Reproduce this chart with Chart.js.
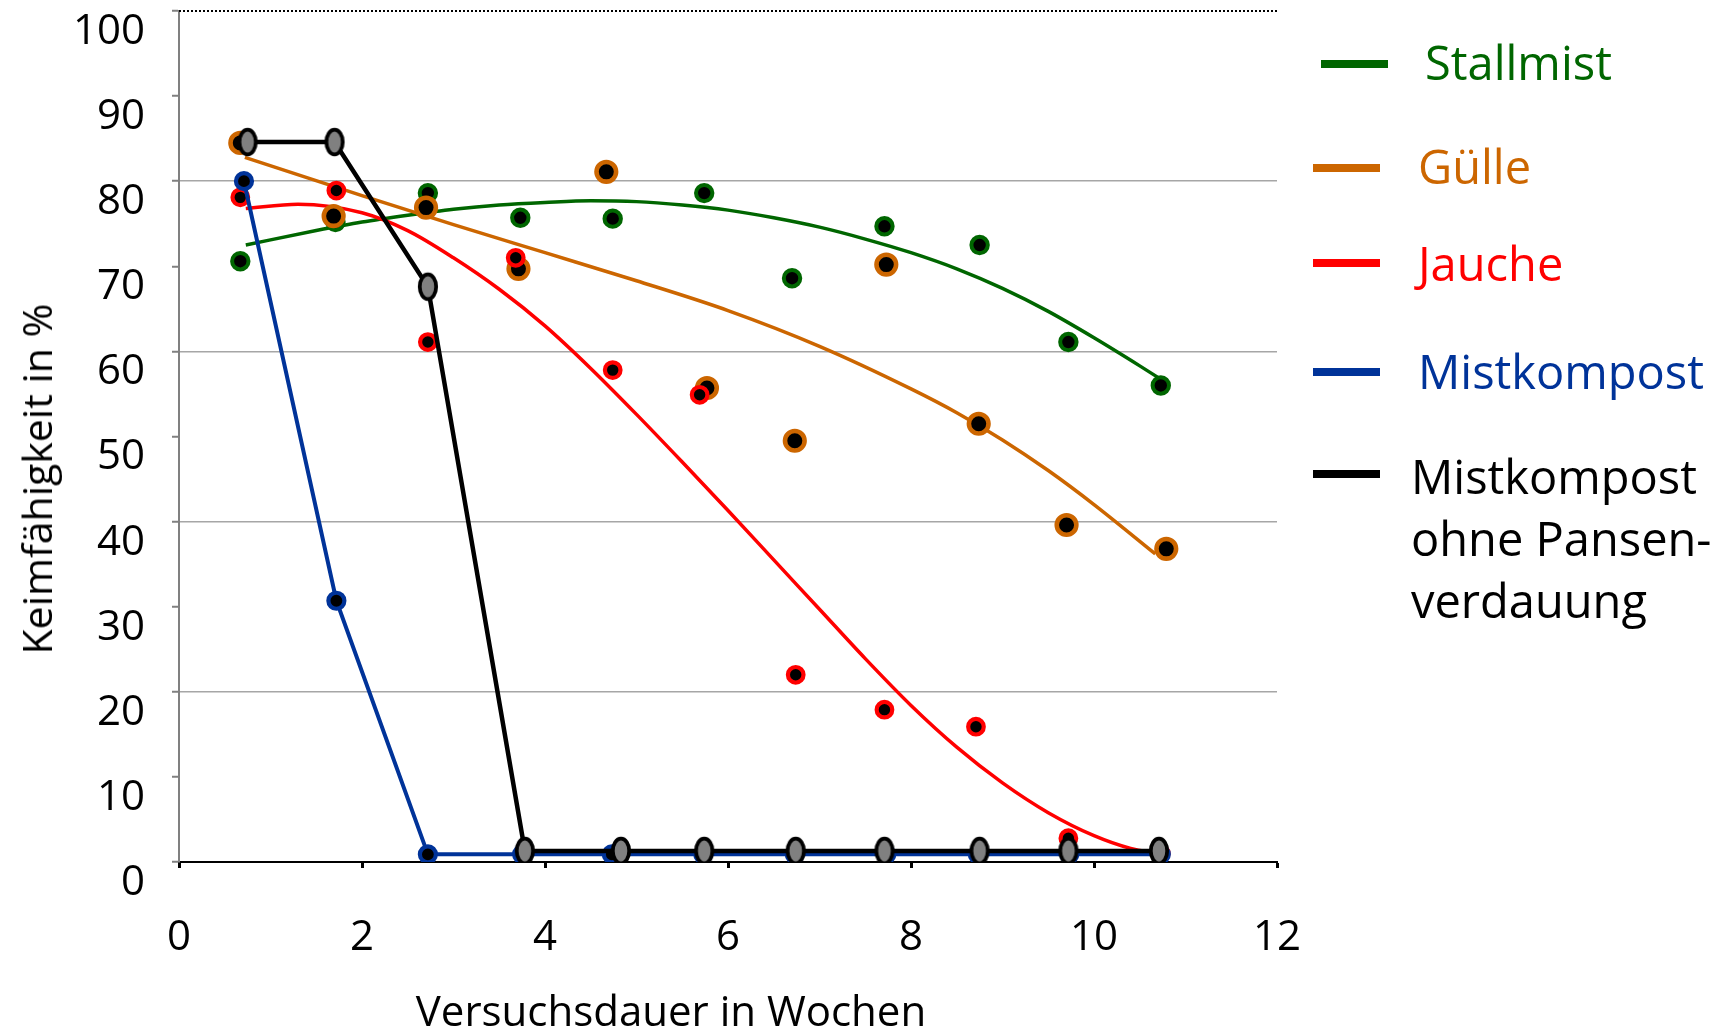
<!DOCTYPE html>
<html>
<head>
<meta charset="utf-8">
<script src="https://cdn.jsdelivr.net/npm/chart.js@4.4.1/dist/chart.umd.min.js"></script>
<style>
html,body{margin:0;padding:0;background:#fff;overflow:hidden}
#wrap{position:relative;width:1719px;height:1033px}
#c{position:absolute;left:0;top:0}
.lgtext{position:absolute;font-family:'Open Sans',sans-serif;font-size:47px;line-height:62px;white-space:nowrap}
.sw{position:absolute;height:8px;width:67px}
.axt{position:absolute;font-family:'Open Sans',sans-serif;white-space:nowrap;color:#000}
</style>
</head>
<body>
<div id="wrap">
<canvas id="c" width="1719" height="1033"></canvas>
<div id="legend"></div>
<div id="xt" class="axt"></div>
<div id="yt" class="axt"></div>
</div>
<script>
// ---------- data ----------
const seriesNames = ['Stallmist', 'Gülle', 'Jauche', 'Mistkompost', ['Mistkompost', 'ohne Pansen-', 'verdauung']];
const seriesColors = ['#006600', '#CC6600', '#FF0000', '#003399', '#000000'];
const xAxisTitle = 'Versuchsdauer in Wochen';
const yAxisTitle = 'Keimfähigkeit in %';

const stallmistX = [0.67, 1.71, 2.72, 3.73, 4.74, 5.74, 6.70, 7.71, 8.75, 9.72, 10.73];
const stallmistY = [70.6, 75.2, 78.6, 75.7, 75.6, 78.6, 68.6, 74.7, 72.5, 61.1, 56.0];
const guelleX = [0.67, 1.69, 2.70, 3.71, 4.67, 5.77, 6.73, 7.73, 8.74, 9.70, 10.79];
const guelleY = [84.5, 75.9, 76.9, 69.7, 81.1, 55.7, 49.5, 70.2, 51.5, 39.6, 36.8];
const jaucheX = [0.67, 1.72, 2.72, 3.68, 4.74, 5.69, 6.74, 7.71, 8.71, 9.72, 10.73];
const jaucheY = [78.1, 78.9, 61.1, 71.0, 57.8, 54.9, 22.0, 17.9, 15.9, 2.8, 1.0];
const mistkompostX = [0.71, 1.72, 2.72, 3.75, 4.73, 5.73, 6.73, 7.73, 8.73, 9.73, 10.73];
const mistkompostY = [80.0, 30.7, 0.9, 0.9, 0.9, 0.9, 0.9, 0.9, 0.9, 0.9, 0.9];
const ohnePansenX = [0.75, 1.70, 2.72, 3.78, 4.83, 5.74, 6.74, 7.71, 8.75, 9.72, 10.71];
const ohnePansenY = [84.6, 84.6, 67.6, 1.3, 1.3, 1.3, 1.3, 1.3, 1.3, 1.3, 1.3];

// trend curves
const stallmistTrendX = [0.73, 1.5, 2.0, 2.5, 3.0, 3.5, 4.0, 4.5, 5.0, 5.5, 6.0, 6.5, 7.0, 7.5, 8.0, 8.5, 9.0, 9.5, 10.0, 10.5, 10.72];
const stallmistTrendY = [72.5, 74.2, 75.2, 76.0, 76.7, 77.2, 77.5, 77.7, 77.6, 77.2, 76.6, 75.7, 74.6, 73.2, 71.6, 69.7, 67.4, 64.7, 61.6, 58.3, 56.8];
const guelleTrendX = [0.72, 2.0, 3.0, 4.0, 5.0, 6.0, 7.0, 8.0, 8.5, 9.0, 9.5, 10.0, 10.67];
const guelleTrendY = [82.8, 78.3, 74.9, 71.6, 68.3, 64.8, 60.6, 55.6, 52.8, 49.6, 46.0, 42.0, 36.2];
const jaucheTrendX = [0.73, 1.3, 2.0, 2.5, 3.0, 3.5, 4.0, 4.5, 5.0, 5.5, 6.0, 6.5, 7.0, 7.5, 8.0, 8.5, 9.0, 9.5, 10.0, 10.4, 10.7];
const jaucheTrendY = [76.8, 77.3, 76.3, 74.2, 71.0, 67.3, 63.0, 58.0, 52.6, 47.0, 41.3, 35.5, 29.7, 23.9, 18.4, 13.5, 9.3, 5.8, 3.1, 1.6, 1.0];

const xMin = 0, xMax = 12, xStep = 2;
const yMin = 0, yMax = 100, yStep = 10;
const yGridValues = [20, 40, 60, 80];

// ---------- helpers ----------
const pts = (xs, ys) => xs.map((x, i) => ({x: x, y: ys[i]}));

function ellipseMarker() {
  const c = document.createElement('canvas');
  c.width = 24; c.height = 32;
  const g = c.getContext('2d');
  g.beginPath();
  g.ellipse(12, 16, 8.2, 12.3, 0, 0, Math.PI * 2);
  g.fillStyle = '#808080';
  g.fill();
  g.lineWidth = 3.8;
  g.strokeStyle = '#000';
  g.stroke();
  return c;
}
const ellipse = ellipseMarker();

const FONT = "'Open Sans', sans-serif";

const datasets = [
  { label: 'ohne', data: pts(ohnePansenX, ohnePansenY), showLine: true, borderColor: '#000', borderWidth: 4.5,
    pointStyle: ellipse, pointRadius: 12, tension: 0, order: 0 },
  { label: 'mist', data: pts(mistkompostX, mistkompostY), showLine: true, borderColor: seriesColors[3], borderWidth: 4,
    tension: 0,
    pointBackgroundColor: '#000', pointBorderColor: seriesColors[3], pointBorderWidth: 4.2, pointRadius: 8, order: 1 },
  { label: 'jauche', data: pts(jaucheX, jaucheY), showLine: false,
    pointBackgroundColor: '#000', pointBorderColor: seriesColors[2], pointBorderWidth: 4.2, pointRadius: 7.8, order: 2 },
  { label: 'guelle', data: pts(guelleX, guelleY), showLine: false,
    pointBackgroundColor: '#000', pointBorderColor: seriesColors[1], pointBorderWidth: 4.6, pointRadius: 9.8, order: 3 },
  { label: 'stall', data: pts(stallmistX, stallmistY), showLine: false,
    pointBackgroundColor: '#000', pointBorderColor: seriesColors[0], pointBorderWidth: 4, pointRadius: 8.2, order: 4 },
  { label: 'jaucheTrend', data: pts(jaucheTrendX, jaucheTrendY), showLine: true, borderColor: seriesColors[2], borderWidth: 3.5,
    pointRadius: 0, cubicInterpolationMode: 'monotone', order: 5 },
  { label: 'guelleTrend', data: pts(guelleTrendX, guelleTrendY), showLine: true, borderColor: seriesColors[1], borderWidth: 3.5,
    pointRadius: 0, cubicInterpolationMode: 'monotone', order: 6 },
  { label: 'stallTrend', data: pts(stallmistTrendX, stallmistTrendY), showLine: true, borderColor: seriesColors[0], borderWidth: 3.5,
    pointRadius: 0, cubicInterpolationMode: 'monotone', order: 7 }
];

// dotted frame line at the top of the value axis
const topFrame = {
  id: 'topFrame',
  beforeDatasetsDraw(chart) {
    const {ctx, chartArea} = chart;
    const y = chart.scales.y.getPixelForValue(yMax);
    ctx.save();
    ctx.strokeStyle = '#000';
    ctx.lineWidth = 2;
    ctx.setLineDash([2, 2]);
    ctx.beginPath();
    ctx.moveTo(chartArea.left, y);
    ctx.lineTo(chartArea.right, y);
    ctx.stroke();
    ctx.restore();
  }
};

new Chart(document.getElementById('c'), {
  type: 'scatter',
  data: { datasets: datasets },
  plugins: [topFrame],
  options: {
    responsive: false,
    devicePixelRatio: 1,
    animation: false,
    events: [],
    layout: { autoPadding: false, padding: { left: 0, right: 442, top: 11, bottom: 0 } },
    plugins: { legend: { display: false }, tooltip: { enabled: false } },
    scales: {
      x: {
        type: 'linear', position: 'bottom', min: xMin, max: xMax,
        ticks: { stepSize: xStep, color: '#000', font: { family: FONT, size: 42 }, padding: 45, maxRotation: 0 },
        grid: { drawOnChartArea: false, drawTicks: true, tickLength: 6, tickWidth: 3, tickColor: '#000' },
        border: { display: true, color: '#000', width: 2 },
        afterFit: s => { s.height = 171; s.paddingLeft = 0; s.paddingRight = 0; }
      },
      y: {
        type: 'linear', position: 'left', min: yMin, max: yMax,
        ticks: { stepSize: yStep, color: '#000', font: { family: FONT, size: 42 }, padding: 27, labelOffset: 21 },
        grid: {
          color: ctx => (ctx.tick && yGridValues.includes(ctx.tick.value)) ? '#a6a6a6' : 'rgba(0,0,0,0)',
          lineWidth: 1.5, drawTicks: true, tickLength: 7, tickWidth: 2, tickColor: '#808080'
        },
        border: { display: true, color: '#808080', width: 2 },
        afterFit: s => { s.width = 179; s.paddingTop = 0; s.paddingBottom = 0; }
      }
    }
  }
});

// ---------- legend & axis titles (HTML text) ----------
const legendSwatch = [ {x: 1321, y: 64}, {x: 1313, y: 168}, {x: 1313, y: 263}, {x: 1313, y: 372}, {x: 1313, y: 474} ];
const legendText = [ {x: 1425, y: 31}, {x: 1418, y: 135}, {x: 1418, y: 232}, {x: 1418, y: 340}, {x: 1411, y: 445} ];
const lg = document.getElementById('legend');
seriesNames.forEach((name, i) => {
  const sw = document.createElement('div');
  sw.className = 'sw';
  sw.style.left = legendSwatch[i].x + 'px';
  sw.style.top = (legendSwatch[i].y - 4) + 'px';
  sw.style.background = seriesColors[i];
  lg.appendChild(sw);
  const t = document.createElement('div');
  t.className = 'lgtext';
  t.style.left = legendText[i].x + 'px';
  t.style.top = legendText[i].y + 'px';
  t.style.color = seriesColors[i];
  if (Array.isArray(name)) { name.forEach((line, k) => { if (k) t.appendChild(document.createElement('br')); t.appendChild(document.createTextNode(line)); }); }
  else t.textContent = name;
  lg.appendChild(t);
});

const xt = document.getElementById('xt');
xt.textContent = xAxisTitle;
Object.assign(xt.style, { left: '671px', top: '985px', fontSize: '42px', lineHeight: '50px', transform: 'translateX(-50%)' });
const yt = document.getElementById('yt');
yt.textContent = yAxisTitle;
Object.assign(yt.style, { left: '36px', top: '479px', fontSize: '41px', lineHeight: '50px', transform: 'translate(-50%,-50%) rotate(-90deg)' });
</script>
</body>
</html>
